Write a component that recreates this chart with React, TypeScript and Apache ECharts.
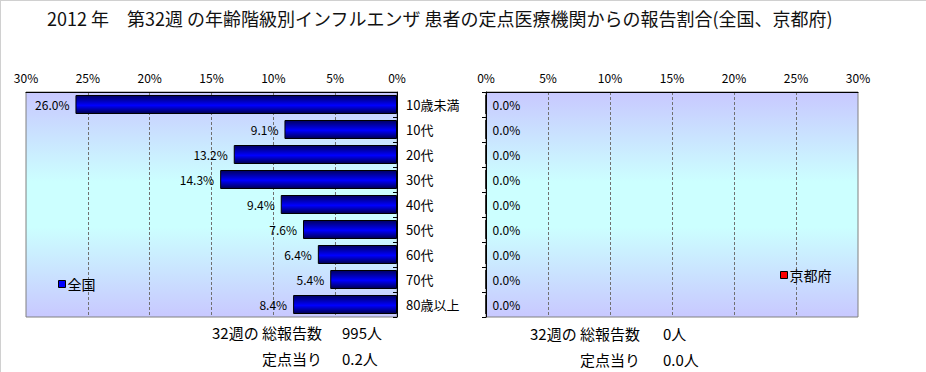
import React, { useEffect, useRef } from "react";
import * as echarts from "echarts";

const titleText = "2012 年　第32週 の年齢階級別インフルエンザ 患者の定点医療機関からの報告割合(全国、京都府)";
const categories = ["10歳未満", "10代", "20代", "30代", "40代", "50代", "60代", "70代", "80歳以上"];
const nationalValues = [26.0, 9.1, 13.2, 14.3, 9.4, 7.6, 6.4, 5.4, 8.4];
const kyotoValues = [0, 0, 0, 0, 0, 0, 0, 0, 0];
const seriesNames = ["全国", "京都府"];
const summaryLabels = ["32週の 総報告数", "定点当り"];
const nationalSummary = ["995人", "0.2人"];
const kyotoSummary = ["0人", "0.0人"];
const axisMin = 0;
const axisMax = 30;
const axisStep = 5;

const FONT = "'Noto Sans CJK JP', 'Noto Sans', sans-serif";

const bgGradient = {
  type: "linear",
  x: 0,
  y: 0,
  x2: 0,
  y2: 1,
  colorStops: [
    { offset: 0, color: "#C8C8FF" },
    { offset: 0.4, color: "#CCFFFF" },
    { offset: 0.6, color: "#CCFFFF" },
    { offset: 1, color: "#C8C8FF" },
  ],
};

const barGradient = {
  type: "linear",
  x: 0,
  y: 0,
  x2: 0,
  y2: 1,
  colorStops: [
    { offset: 0, color: "#000060" },
    { offset: 0.55, color: "#0000FF" },
    { offset: 1, color: "#000050" },
  ],
};

export default function App() {
  const ref = useRef<HTMLDivElement>(null);
  useEffect(() => {
    if (!ref.current) return;
    const chart = echarts.init(ref.current, null, { renderer: "svg" });
    const valueAxis = (gridIndex: number, inverse: boolean) => ({
      type: "value",
      gridIndex,
      min: axisMin,
      max: axisMax,
      interval: axisStep,
      inverse,
      position: "top",
      axisLine: { show: true, lineStyle: { color: "#000", width: 1 } },
      axisTick: { show: false },
      axisLabel: {
        formatter: "{value}%",
        fontSize: 12,
        color: "#000",
        margin: 9,
        fontFamily: FONT,
      },
      splitLine: {
        show: true,
        showMinLine: false,
        showMaxLine: false,
        lineStyle: { color: "#707070", type: [3, 2], width: 1 },
      },
    });
    const labelStyle = {
      show: true,
      fontSize: 12,
      color: "#000",
      fontFamily: FONT,
      formatter: (p: any) => Number(p.value).toFixed(1) + "%",
    };
    const summaryText = (x: number, y: number, text: string, align: string) => ({
      type: "text",
      x,
      y,
      style: {
        text,
        fill: "#000",
        font: `15px ${FONT}`,
        align,
        verticalAlign: "middle",
      },
    });
    chart.setOption({
      animation: false,
      backgroundColor: "#fff",
      textStyle: { fontFamily: FONT },
      title: {
        text: titleText,
        left: 42,
        top: 4,
        textStyle: { fontSize: 18, fontWeight: "normal", color: "#111", fontFamily: FONT },
      },
      grid: [
        {
          left: 26,
          top: 92,
          width: 371,
          height: 225,
          show: true,
          backgroundColor: bgGradient,
          borderColor: "#808080",
          borderWidth: 1,
        },
        {
          left: 486,
          top: 92,
          width: 372,
          height: 225,
          show: true,
          backgroundColor: bgGradient,
          borderColor: "#808080",
          borderWidth: 1,
        },
      ],
      xAxis: [valueAxis(0, true), valueAxis(1, false)],
      yAxis: [
        {
          type: "category",
          gridIndex: 0,
          data: categories,
          inverse: true,
          position: "right",
          axisLine: { show: true, lineStyle: { color: "#000" } },
          axisTick: { show: true, inside: true, length: 4, lineStyle: { color: "#000" } },
          axisLabel: { fontSize: 13, color: "#000", margin: 9, fontFamily: FONT },
        },
        {
          type: "category",
          gridIndex: 1,
          data: categories,
          inverse: true,
          position: "left",
          axisLine: { show: true, lineStyle: { color: "#000" } },
          axisTick: { show: true, inside: false, length: 4, lineStyle: { color: "#000" } },
          axisLabel: { show: false },
        },
      ],
      legend: [
        {
          data: [{ name: seriesNames[0], itemStyle: { color: "#0000FF", borderColor: "#000", borderWidth: 1 } }],
          left: 58,
          top: 277,
          padding: 0,
          itemWidth: 7,
          itemHeight: 7,
          icon: "rect",
          selectedMode: false,
          textStyle: { fontSize: 14, color: "#000", fontFamily: FONT, padding: [0, 0, 0, -3] },
        },
        {
          data: [{ name: seriesNames[1], itemStyle: { color: "#FF0000", borderColor: "#000", borderWidth: 1 } }],
          left: 780,
          top: 268,
          padding: 0,
          itemWidth: 7,
          itemHeight: 7,
          icon: "rect",
          selectedMode: false,
          textStyle: { fontSize: 14, color: "#000", fontFamily: FONT, padding: [0, 0, 0, -3] },
        },
      ],
      series: [
        {
          name: seriesNames[0],
          type: "bar",
          xAxisIndex: 0,
          yAxisIndex: 0,
          data: nationalValues,
          barWidth: 19,
          itemStyle: { color: barGradient, borderColor: "#000", borderWidth: 1 },
          label: { ...labelStyle, position: "left", distance: 6 },
        },
        {
          name: seriesNames[1],
          type: "bar",
          xAxisIndex: 1,
          yAxisIndex: 1,
          data: kyotoValues,
          barWidth: 19,
          itemStyle: { color: "#FF0000", borderColor: "#000", borderWidth: 1 },
          label: { ...labelStyle, position: "right", distance: 6 },
        },
      ],
      graphic: [
        { type: "line", shape: { x1: 0, y1: 0.5, x2: 926, y2: 0.5 }, style: { stroke: "#D0D0D0", lineWidth: 1 } },
        { type: "line", shape: { x1: 0.5, y1: 0, x2: 0.5, y2: 372 }, style: { stroke: "#D0D0D0", lineWidth: 1 } },
        summaryText(322, 332, summaryLabels[0], "right"),
        summaryText(322, 358, summaryLabels[1], "right"),
        summaryText(342, 332, nationalSummary[0], "left"),
        summaryText(342, 358, nationalSummary[1], "left"),
        summaryText(640, 333, summaryLabels[0], "right"),
        summaryText(640, 359, summaryLabels[1], "right"),
        summaryText(663, 333, kyotoSummary[0], "left"),
        summaryText(663, 359, kyotoSummary[1], "left"),
      ],
    });
    return () => chart.dispose();
  }, []);
  return (
    <div
      ref={ref}
      style={{ position: "fixed", left: 0, top: 0, width: 926, height: 372 }}
    />
  );
}
